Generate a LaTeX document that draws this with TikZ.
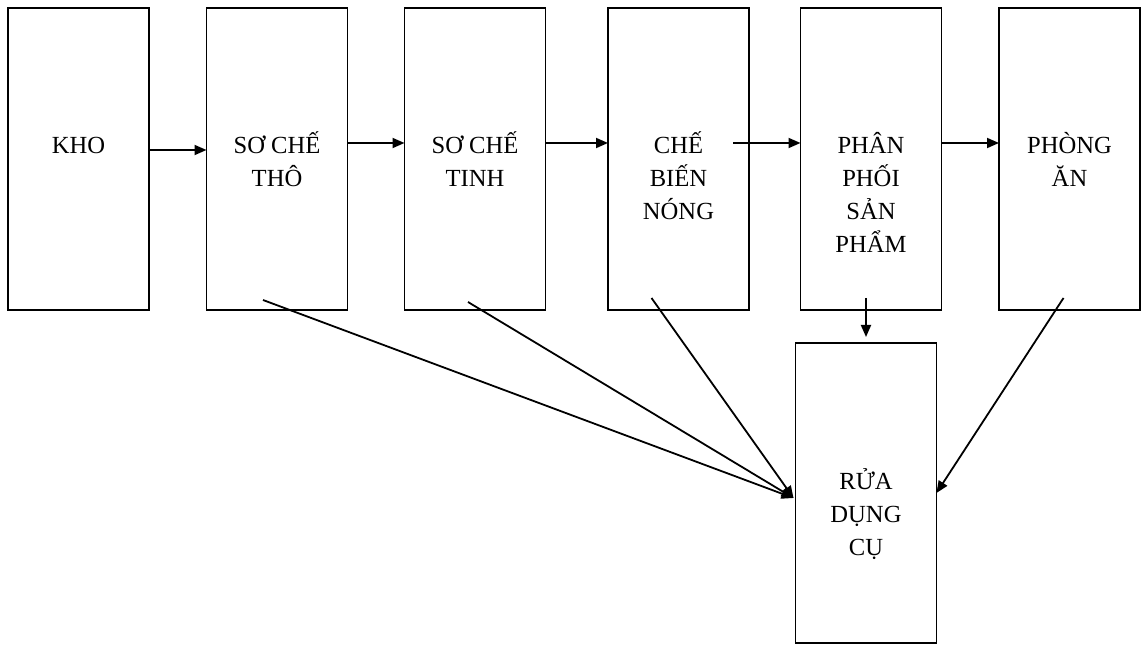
\documentclass[tikz,border=0pt]{standalone}
\usepackage{fontspec}
\setmainfont{Liberation Serif}
\usetikzlibrary{positioning, arrows.meta}

\begin{document}
\begin{tikzpicture}[x=0.5pt, y=-0.5pt]
  % Define styles for nodes
  \tikzset{
    stagebox/.style={rectangle, draw, line width=0.9pt, minimum width=70.5pt, minimum height=151pt, inner sep=0pt, outer sep=0pt},
    stagetext/.style={align=center, anchor=base, inner sep=0pt, font=\fontsize{12.3}{16.5}\selectfont},
    flow/.style={-{Triangle[length=6pt, width=5pt]}, line width=0.9pt}
  }
  \useasboundingbox (0,0) rectangle (1147,646);

  % Create the boxes of the kitchen line
  \node[stagebox] (kho) at (78.5,159) {};
  \node[stagebox, right=28.75pt of kho] (sochetho) {};
  \node[stagebox, right=28.5pt of sochetho] (sochetinh) {};
  \node[stagebox, right=31.25pt of sochetinh] (chebien) {};
  \node[stagebox, right=25.75pt of chebien] (phanphoi) {};
  \node[stagebox, right=28.75pt of phanphoi] (phongan) {};
  \node[stagebox, minimum height=150pt, below=16.5pt of phanphoi, xshift=-2.5pt] (rua) {};

  % Add the texts in the boxes (base = last line)
  \node[stagetext] (khoText) at ([yshift=2.75pt]kho.center) {KHO};
  \node[stagetext] (sochethoText) at ([yshift=-13.75pt]sochetho.center) {SƠ CHẾ\\THÔ};
  \node[stagetext] (sochetinhText) at ([yshift=-13.75pt]sochetinh.center) {SƠ CHẾ\\TINH};
  \node[stagetext] (chebienText) at ([yshift=-30.25pt]chebien.center) {CHẾ\\BIẾN\\NÓNG};
  \node[stagetext] (phanphoiText) at ([yshift=-46.75pt]phanphoi.center) {PHÂN\\PHỐI\\SẢN\\PHẨM};
  \node[stagetext] (phonganText) at ([yshift=-13.75pt]phongan.center) {PHÒNG\\ĂN};
  \node[stagetext] (ruaText) at ([yshift=-31.5pt]rua.center) {RỬA\\DỤNG\\CỤ};

  % Draw the arrows along the line
  \draw[flow] ([yshift=4.5pt]kho.east) -- ([yshift=4.5pt]sochetho.west);
  \draw[flow] ([yshift=8pt]sochetho.east) -- ([yshift=8pt]sochetinh.west);
  \draw[flow] ([yshift=8pt]sochetinh.east) -- ([yshift=8pt]chebien.west);
  \draw[flow] ([xshift=-8pt, yshift=8pt]chebien.east) -- ([yshift=8pt]phanphoi.west);
  \draw[flow] ([yshift=8pt]phanphoi.east) -- ([yshift=8pt]phongan.west);

  % Draw the arrows to the washing box
  \draw[flow] ([xshift=-7pt, yshift=5pt]sochetho.south) -- ([xshift=-1pt, yshift=-2.5pt]rua.west);
  \draw[flow] ([xshift=-3.5pt, yshift=4pt]sochetinh.south) -- ([xshift=-1pt, yshift=-2.5pt]rua.west);
  \draw[flow] ([xshift=-13.5pt, yshift=6pt]chebien.south) -- ([xshift=-1pt, yshift=-2.5pt]rua.west);
  \draw[flow] ([yshift=6pt]rua.north |- phanphoi.south) -- ([yshift=3pt]rua.north);
  \draw[flow] ([xshift=-3pt, yshift=6pt]phongan.south) -- (rua.east);
\end{tikzpicture}
\end{document}
